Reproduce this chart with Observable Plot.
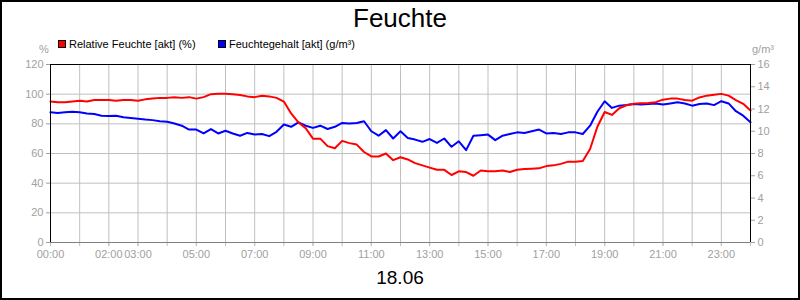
<!DOCTYPE html>
<html>
<head>
<meta charset="utf-8">
<script src="https://cdn.jsdelivr.net/npm/d3@7"></script>
<script src="https://cdn.jsdelivr.net/npm/@observablehq/plot@0.6"></script>
<style>
  html, body { margin: 0; padding: 0; background: #fff; }
  #wrap { position: relative; width: 800px; height: 300px; font-family: "Liberation Sans", Arial, sans-serif; overflow: hidden; }
  #wrap svg { position: absolute; left: 0; top: 0; }
  .abs { position: absolute; white-space: nowrap; line-height: 1; }
  #border { position: absolute; left: 0; top: 0; width: 800px; height: 300px; box-sizing: border-box; border: 2px solid #000; pointer-events: none; }
  .sw { position: absolute; width: 8px; height: 8px; box-sizing: border-box; border: 1px solid #000; }
</style>
</head>
<body>
<div id="wrap">
  <div class="abs" id="title" style="left:0;width:800px;text-align:center;top:5px;font-size:26px;color:#000;"></div>
  <div class="sw" style="left:58px;top:40px;background:#ff0000;"></div>
  <div class="abs" id="leg1" style="left:69px;top:38.5px;font-size:11px;color:#000;"></div>
  <div class="sw" style="left:218px;top:40px;background:#0000ff;"></div>
  <div class="abs" id="leg2" style="left:229px;top:38.5px;font-size:11px;color:#000;"></div>
  <div class="abs" id="unitL" style="left:39px;top:43.5px;font-size:11px;color:#a0a0a0;"></div>
  <div class="abs" id="unitR" style="left:752px;top:43.5px;font-size:11px;color:#a0a0a0;"></div>
  <div class="abs" id="date" style="left:0;width:800px;text-align:center;top:268px;font-size:19px;color:#000;"></div>
  <div id="border"></div>
</div>
<script>
const title = "Feuchte";
const dateLabel = "18.06";
const seriesNames = ["Relative Feuchte [akt] (%)", "Feuchtegehalt [akt] (g/m³)"];
const unitLeft = "%";
const unitRight = "g/m³";

const times = [
  "00:00","00:15","00:30","00:45","01:00","01:15","01:30","01:45",
  "02:00","02:15","02:30","02:45","03:00","03:15","03:30","03:45",
  "04:00","04:15","04:30","04:45","05:00","05:15","05:30","05:45",
  "06:00","06:15","06:30","06:45","07:00","07:15","07:30","07:45",
  "08:00","08:15","08:30","08:45","09:00","09:15","09:30","09:45",
  "10:00","10:15","10:30","10:45","11:00","11:15","11:30","11:45",
  "12:00","12:15","12:30","12:45","13:00","13:15","13:30","13:45",
  "14:00","14:15","14:30","14:45","15:00","15:15","15:30","15:45",
  "16:00","16:15","16:30","16:45","17:00","17:15","17:30","17:45",
  "18:00","18:15","18:30","18:45","19:00","19:15","19:30","19:45",
  "20:00","20:15","20:30","20:45","21:00","21:15","21:30","21:45",
  "22:00","22:15","22:30","22:45","23:00","23:15","23:30","23:45",
  "24:00"
];

const relHumidity = [
  95, 94.5, 94.5, 95, 95.5, 95, 96, 96,
  96, 95.5, 96, 96, 95.5, 96.5, 97, 97.5,
  97.5, 98, 97.5, 98, 97, 98, 100, 100.2,
  100.2, 100, 99.5, 98.5, 98, 99, 98.5, 97.5,
  95, 87, 81, 77, 70, 70, 65, 63.5,
  68.5, 67, 66, 61, 58, 58, 60, 55.5,
  57.5, 56, 53.5, 52, 50.5, 49, 49, 45.5,
  48, 47.5, 45, 48.5, 48, 48, 48.5, 47.5,
  49, 49.5, 49.7, 50, 51.5, 52, 53, 54.5,
  54.5, 55, 63, 78, 88, 86, 90.5, 92.5,
  93.5, 93.8, 94, 94.6, 96.3, 97, 97, 96,
  95.6, 97.8, 99, 99.6, 100.2, 99, 96, 93.5,
  89
];

const absHumidity = [
  11.7, 11.65, 11.7, 11.75, 11.7, 11.6, 11.55, 11.4,
  11.36, 11.4, 11.25, 11.2, 11.12, 11.05, 11.0, 10.9,
  10.85, 10.7, 10.5, 10.15, 10.15, 9.8, 10.2, 9.8,
  10.05, 9.8, 9.6, 9.85, 9.7, 9.75, 9.56, 9.95,
  10.6, 10.4, 10.8, 10.5, 10.3, 10.5, 10.2, 10.4,
  10.75, 10.7, 10.75, 10.9, 10.0, 9.6, 10.1, 9.35,
  10.0, 9.4, 9.25, 9.05, 9.3, 8.95, 9.35, 8.6,
  9.1, 8.3, 9.6, 9.65, 9.7, 9.2, 9.6, 9.75,
  9.9, 9.85, 10.0, 10.15, 9.8, 9.85, 9.75, 9.9,
  9.9, 9.75, 10.5, 11.75, 12.7, 12.1, 12.3, 12.35,
  12.45, 12.4, 12.45, 12.5, 12.4, 12.5, 12.6, 12.5,
  12.3, 12.45, 12.5, 12.35, 12.7, 12.5, 11.8, 11.4,
  10.8
];

const leftTicks = [0, 20, 40, 60, 80, 100, 120];
const rightTicks = [0, 2, 4, 6, 8, 10, 12, 14, 16];
const xTickLabels = ["00:00","02:00","03:00","05:00","07:00","09:00","11:00","13:00","15:00","17:00","19:00","21:00","23:00"];
const hourTicks = ["00:00","01:00","02:00","03:00","04:00","05:00","06:00","07:00","08:00","09:00","10:00","11:00","12:00",
                   "13:00","14:00","15:00","16:00","17:00","18:00","19:00","20:00","21:00","22:00","23:00","24:00"];

const toHour = s => { const [h, m] = s.split(":").map(Number); return h + m / 60; };
const fmtHour = h => String(Math.floor(h)).padStart(2, "0") + ":00";
const ratio = 120 / 16; // right axis max 16 maps onto left axis max 120

const rows = times.map((t, i) => ({ h: toHour(t), rh: relHumidity[i], ah: absHumidity[i] }));

document.getElementById("title").textContent = title;
document.getElementById("date").textContent = dateLabel;
document.getElementById("leg1").textContent = seriesNames[0];
document.getElementById("leg2").textContent = seriesNames[1];
document.getElementById("unitL").textContent = unitLeft;
document.getElementById("unitR").textContent = unitRight;

const grid = "#c0c0c0";
const tickCol = "#a0a0a0";
const hours = hourTicks.map(toHour);

const chart = Plot.plot({
  width: 800,
  height: 300,
  marginLeft: 50,
  marginRight: 50,
  marginTop: 64,
  marginBottom: 58,
  style: { fontFamily: "Liberation Sans, Arial, sans-serif", fontSize: "11px", background: "transparent" },
  x: { type: "linear", domain: [0, 24], axis: null },
  y: { type: "linear", domain: [0, 120], axis: null },
  marks: [
    Plot.gridX(hours.filter(h => h > 0 && h < 24), { stroke: grid, strokeOpacity: 1, strokeWidth: 1 }),
    Plot.gridY(leftTicks.filter(v => v > 0 && v < 120), { stroke: grid, strokeOpacity: 1, strokeWidth: 1 }),
    Plot.axisY(leftTicks, { anchor: "left", tickSize: 4, tickPadding: 3, color: tickCol, fontSize: 11, label: null }),
    Plot.axisY(rightTicks.map(v => v * ratio), { anchor: "right", tickSize: 4, tickPadding: 3, color: tickCol, fontSize: 11, label: null, tickFormat: v => String(Math.round(v / ratio)) }),
    Plot.axisX(hours, { anchor: "bottom", tickSize: 4, color: grid, tickFormat: () => "", label: null }),
    Plot.axisX(xTickLabels.map(toHour), { anchor: "bottom", tickSize: 4, tickPadding: 4, color: tickCol, stroke: grid, fontSize: 11, label: null, tickFormat: fmtHour }),
    Plot.line(rows, { x: "h", y: d => d.ah * ratio, stroke: "#0000ff", strokeWidth: 2 }),
    Plot.line(rows, { x: "h", y: "rh", stroke: "#ff0000", strokeWidth: 2 }),
    Plot.ruleY([0], { stroke: "#808080", strokeWidth: 1 }),
    Plot.ruleY([120], { stroke: "#000", strokeWidth: 1 }),
    Plot.ruleX([0], { stroke: "#000", strokeWidth: 1 }),
    Plot.ruleX([24], { stroke: "#000", strokeWidth: 1 })
  ]
});
document.getElementById("wrap").insertBefore(chart, document.getElementById("title"));
</script>
</body>
</html>
